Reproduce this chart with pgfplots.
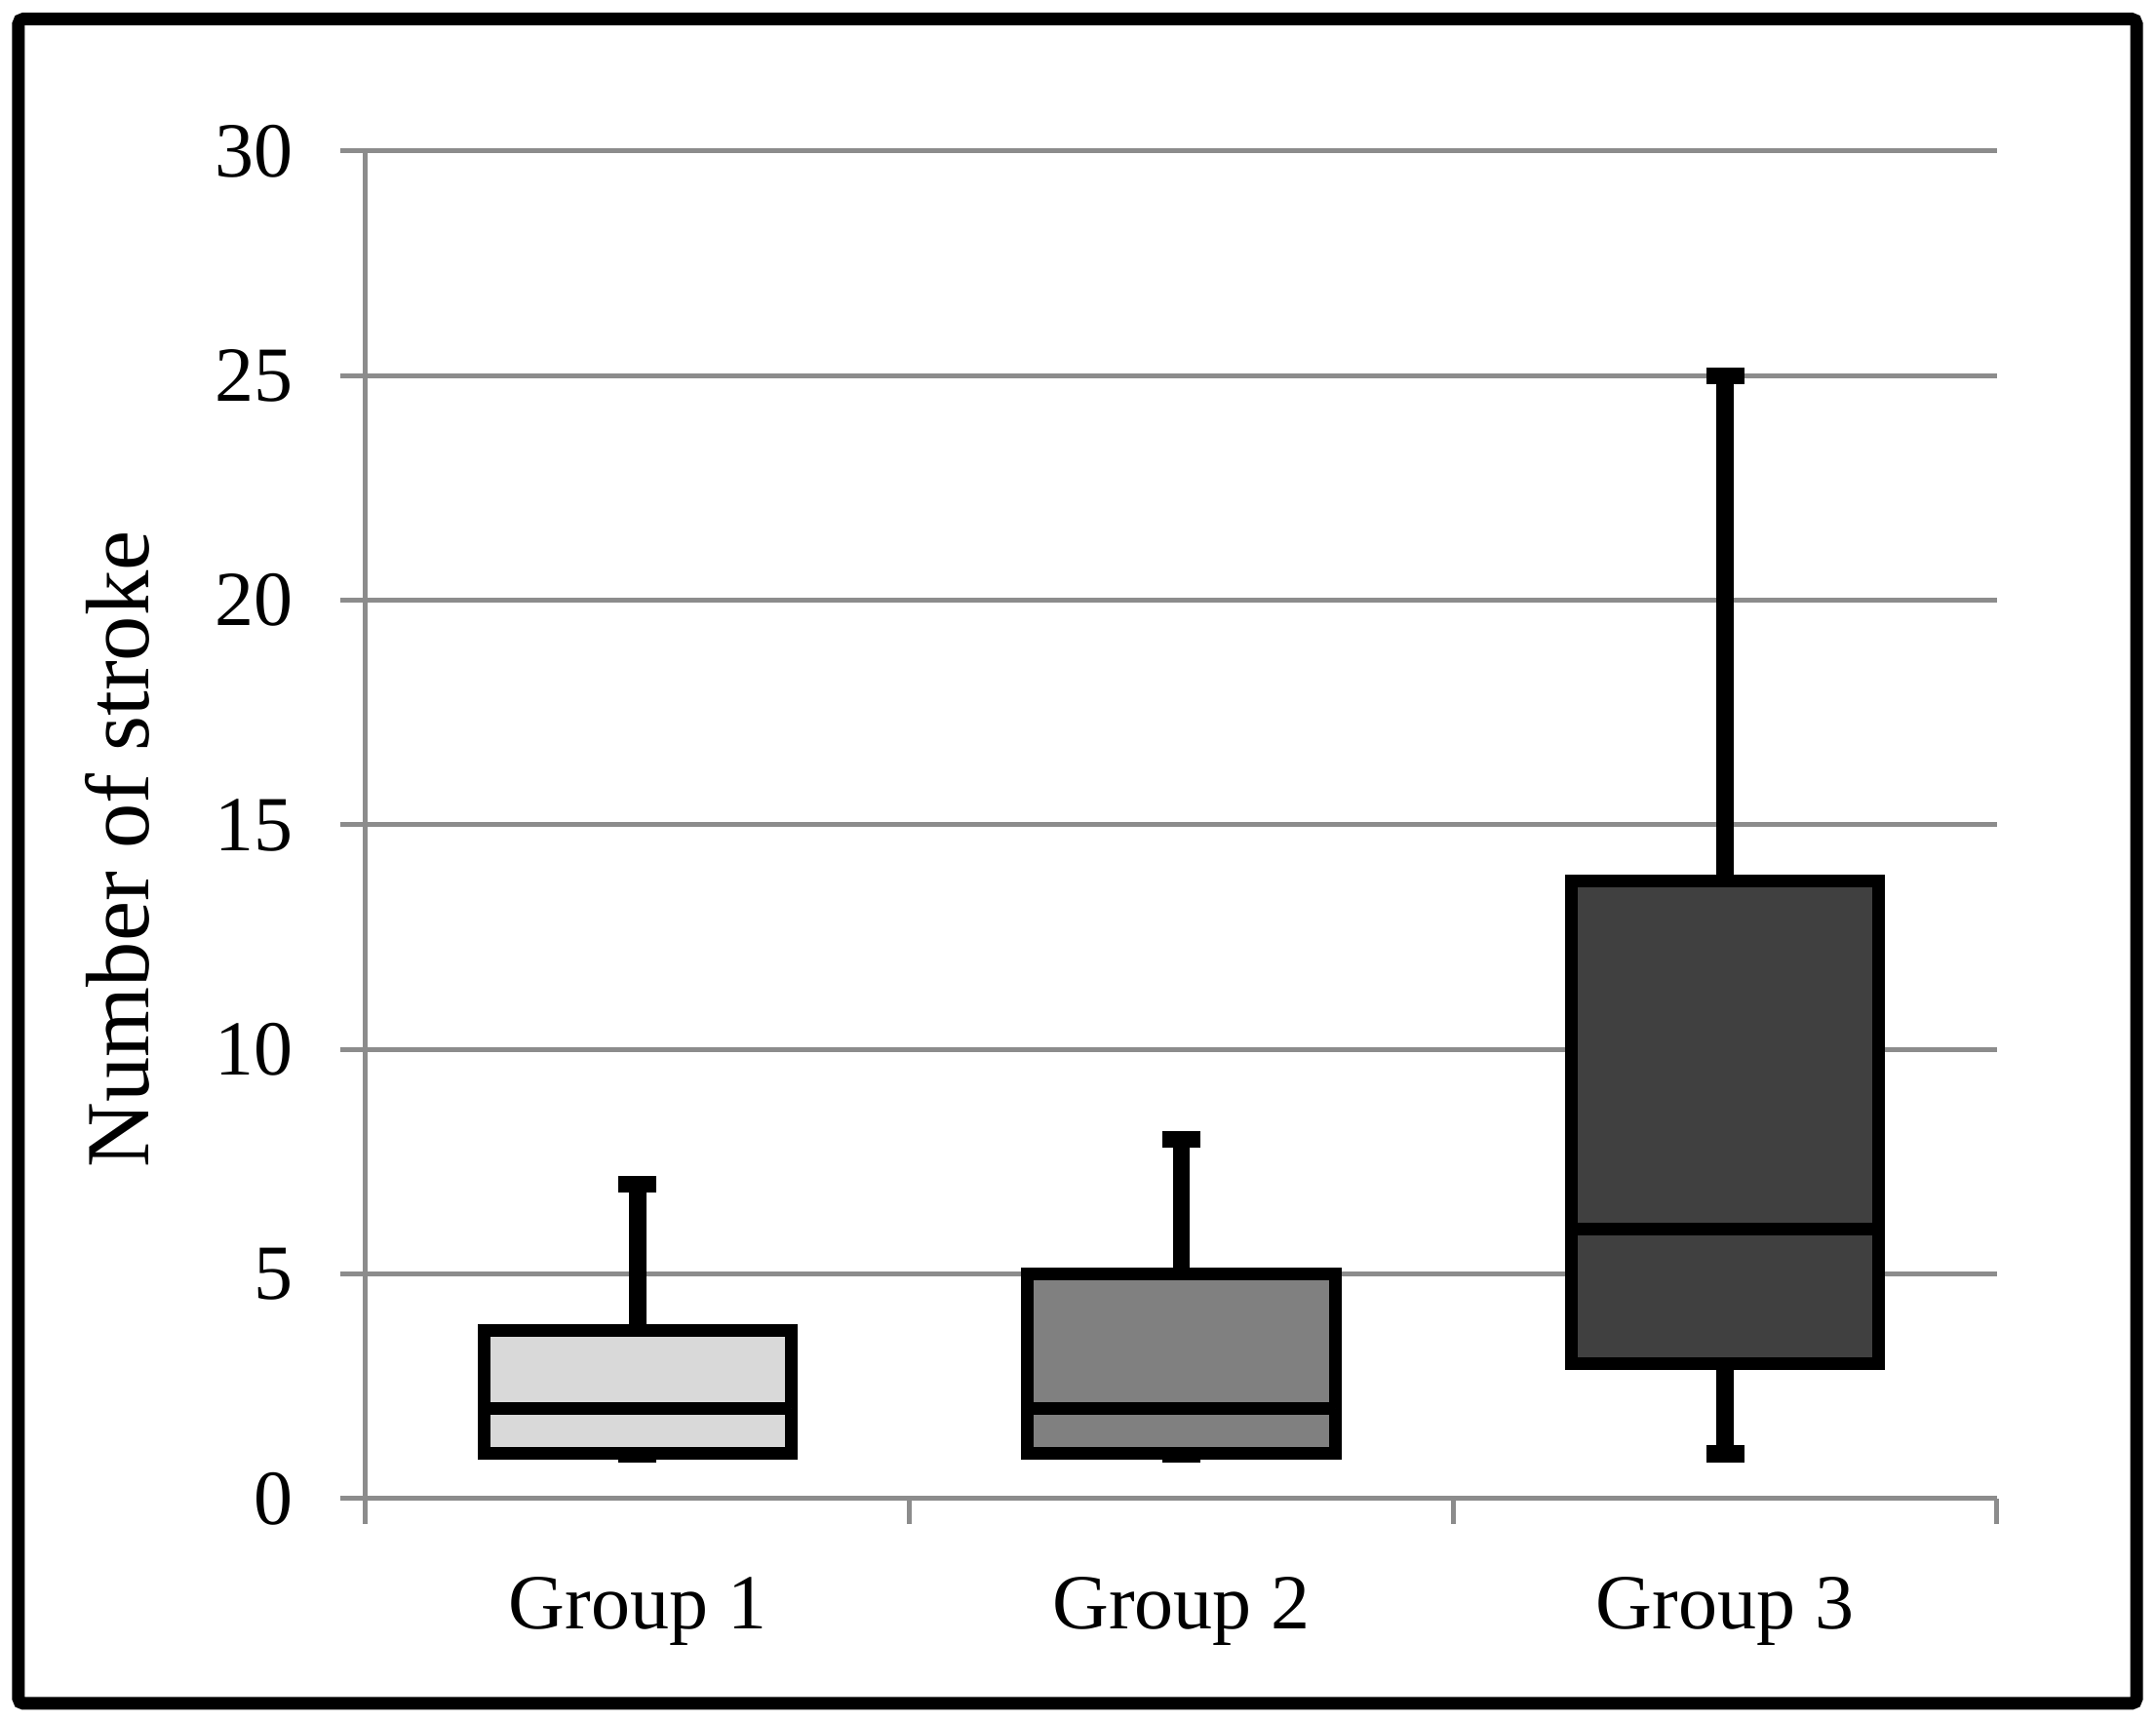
\documentclass[border=0pt]{standalone}
\usepackage{fontspec}
\setmainfont{Liberation Serif}
\usepackage{pgfplots}
\pgfplotsset{compat=1.18}
\usepgfplotslibrary{statistics}
\definecolor{gridgray}{RGB}{140,140,140}
\definecolor{fillA}{RGB}{217,217,217}
\definecolor{fillB}{RGB}{128,128,128}
\definecolor{fillC}{RGB}{64,64,64}

\begin{document}
\begin{tikzpicture}
\useasboundingbox (-75pt,-45.6pt) rectangle (367.2pt,307.4pt);
\begin{axis}[
    scale only axis,
    width=334.6pt, height=276.4pt,
    xmin=-0.5, xmax=2.5,
    ymin=0, ymax=30,
    axis lines*=left,
    axis line style={gridgray, line width=1pt},
    ytick={0,5,...,30},
    xtick={-0.5,0.5,1.5,2.5},
    xticklabels={},
    extra x ticks={0,1,2},
    extra x tick labels={Group 1,Group 2,Group 3},
    extra x tick style={major tick length=0pt},
    tick align=outside,
    major tick length=5.2pt,
    tick style={gridgray, line width=1pt},
    ymajorgrids,
    grid style={gridgray, line width=1pt},
    /pgf/number format/assume math mode=true,
    ticklabel style={font=\fontsize{16}{19}\selectfont},
    yticklabel style={xshift=-6.2pt},
    xticklabel style={yshift=-12.5pt},
    ylabel={Number of stroke},
    ylabel style={font=\fontsize{18.5}{22}\selectfont, at={(axis description cs:-0.152,0.482)}, anchor=center},
    boxplot/draw direction=y,
    boxplot/box extend=0.565,
    boxplot/whisker extend=0.07,
    boxplot/every whisker/.style={line width=3.5pt},
    boxplot/every median/.style={line width=2.6pt},
]
\addplot[draw=black, fill=fillA, line width=2.6pt,
    boxplot prepared={draw position=0, lower whisker=1, lower quartile=1,
        median=2, upper quartile=3.75, upper whisker=7}] coordinates {};
\addplot[draw=black, fill=fillB, line width=2.6pt,
    boxplot prepared={draw position=1, lower whisker=1, lower quartile=1,
        median=2, upper quartile=5, upper whisker=8}] coordinates {};
\addplot[draw=black, fill=fillC, line width=2.6pt,
    boxplot prepared={draw position=2, lower whisker=1, lower quartile=3,
        median=6, upper quartile=13.75, upper whisker=25}] coordinates {};
\end{axis}
\draw[line width=2.6pt, rounded corners=1pt] (-71.2pt,-42pt) rectangle (363.2pt,303.5pt);
\end{tikzpicture}
\end{document}
